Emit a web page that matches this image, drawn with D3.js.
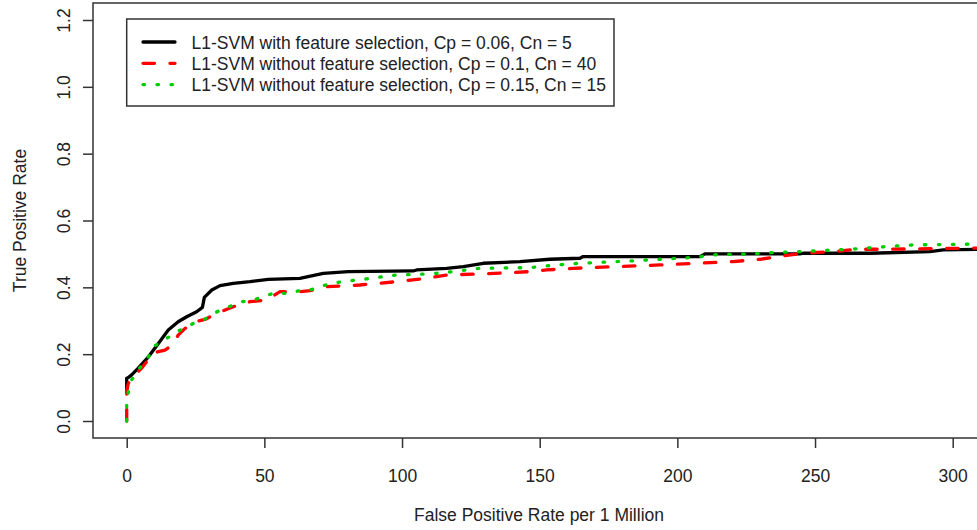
<!DOCTYPE html>
<html>
<head>
<meta charset="utf-8">
<script src="https://cdn.jsdelivr.net/npm/d3@7"></script>
<style>
  body { margin: 0; background: #fff; }
  text { font-family: "Liberation Sans", Arial, sans-serif; fill: #222; }
</style>
</head>
<body>
<div id="chart"></div>
<script>
// ROC curves: [false positives per 1M, true positive rate]
const withFS = [[0,0.09],[0,0.128],[0.6,0.13],[1.8,0.138],[4.2,0.158],[7.9,0.192],[11.5,0.232],[15.1,0.272],[18.7,0.297],[21.8,0.312],[25.4,0.327],[27.5,0.34],[28.2,0.37],[30.9,0.392],[33.9,0.405],[38.7,0.412],[44.8,0.417],[51.4,0.424],[62.9,0.427],[71.4,0.442],[80.5,0.447],[104.1,0.449],[105.3,0.452],[116.2,0.457],[122.3,0.462],[129.5,0.472],[142.8,0.477],[153.7,0.484],[164.6,0.487],[165.8,0.492],[208.2,0.492],[210,0.5],[244.5,0.5],[245.7,0.502],[270,0.502],[291.7,0.507],[296.6,0.512],[312,0.514]];
const noFS_Cp01 = [[0,0],[0,0.09],[0.6,0.113],[3.0,0.138],[5.4,0.158],[8.5,0.19],[10.3,0.205],[13.9,0.212],[16.5,0.227],[18.7,0.257],[21.2,0.277],[24.8,0.297],[28.4,0.304],[32.7,0.322],[38.7,0.342],[44.8,0.357],[50.8,0.362],[55.7,0.387],[62.9,0.387],[66.6,0.39],[72.6,0.402],[84.7,0.407],[98,0.417],[109,0.427],[116.2,0.437],[128.3,0.44],[146.5,0.447],[152.5,0.452],[162.2,0.457],[193.7,0.467],[202.1,0.47],[220.3,0.477],[230,0.484],[238.5,0.494],[245.7,0.502],[256.6,0.507],[265.1,0.514],[274.8,0.514],[303.9,0.517],[312,0.518]];
const noFS_Cp015 = [[0,0],[0,0.06],[0.6,0.088],[1.8,0.123],[4.2,0.153],[7.9,0.192],[9.7,0.222],[11.5,0.232],[14.5,0.247],[18.2,0.267],[21.8,0.282],[25.4,0.297],[27.8,0.302],[33.9,0.332],[38.7,0.347],[41.8,0.357],[46,0.362],[53.2,0.382],[58.1,0.382],[62.9,0.39],[66.6,0.392],[70.2,0.402],[74.5,0.412],[78.7,0.417],[85.9,0.424],[98.1,0.437],[110.2,0.44],[118.6,0.447],[128.3,0.457],[146.5,0.459],[156.2,0.467],[164.6,0.472],[182.8,0.479],[193.7,0.484],[207,0.49],[211.9,0.497],[226.4,0.5],[234.8,0.504],[244.6,0.507],[262.7,0.514],[276,0.522],[285.7,0.527],[305.1,0.529],[312,0.53]];

const xTicks = [0, 50, 100, 150, 200, 250, 300];
const yTicks = [0.0, 0.2, 0.4, 0.6, 0.8, 1.0, 1.2];
const legendLabels = [
  "L1-SVM with feature selection, Cp = 0.06, Cn = 5",
  "L1-SVM without feature selection, Cp = 0.1, Cn = 40",
  "L1-SVM without feature selection, Cp = 0.15, Cn = 15"
];

const W = 977, H = 530;
const FS = 17.5;
const box = {left: 93, top: 3, right: 1003, bottom: 438};

const x = d3.scaleLinear().domain([0, 300]).range([126.7, 952.7]);
const y = d3.scaleLinear().domain([0, 1.2]).range([421, 20]);

const svg = d3.select("#chart").append("svg")
    .attr("width", W)
    .attr("height", H);

svg.append("defs").append("clipPath").attr("id", "plotclip")
  .append("rect")
    .attr("x", box.left).attr("y", box.top)
    .attr("width", box.right - box.left).attr("height", box.bottom - box.top);

// series styles, drawn in legend order so green sits on top
const series = [
  {data: withFS, color: "#000", dash: null},
  {data: noFS_Cp01, color: "#ff0000", dash: "11.5,15.5"},
  {data: noFS_Cp015, color: "#00cd00", dash: "1.5,12.5"}
];

const line = d3.line().x(d => x(d[0])).y(d => y(d[1]));

svg.append("g").attr("clip-path", "url(#plotclip)")
  .selectAll("path")
  .data(series)
  .enter().append("path")
    .attr("d", d => line(d.data))
    .attr("fill", "none")
    .attr("stroke", d => d.color)
    .attr("stroke-width", 3.3)
    .attr("stroke-linecap", "round")
    .attr("stroke-linejoin", "round")
    .attr("stroke-dasharray", d => d.dash);

// plot frame
svg.append("rect")
    .attr("x", box.left).attr("y", box.top)
    .attr("width", box.right - box.left).attr("height", box.bottom - box.top)
    .attr("fill", "none").attr("stroke", "#333").attr("stroke-width", 1.5);

// x axis
const xAxis = svg.append("g")
    .attr("transform", `translate(0,${box.bottom})`)
    .call(d3.axisBottom(x).tickValues(xTicks).tickSize(10).tickPadding(22).tickFormat(d3.format("d")));
xAxis.select(".domain").remove();
xAxis.selectAll("line").attr("stroke", "#333").attr("stroke-width", 1.5);
xAxis.selectAll("text").attr("font-size", FS).attr("fill", "#222")
    .attr("font-family", "Liberation Sans, Arial, sans-serif");

// y axis, labels turned like R's default
const yAxis = svg.append("g")
    .attr("transform", `translate(${box.left},0)`)
    .call(d3.axisLeft(y).tickValues(yTicks).tickSize(10).tickFormat(d3.format(".1f")));
yAxis.select(".domain").remove();
yAxis.selectAll("line").attr("stroke", "#333").attr("stroke-width", 1.5);
yAxis.selectAll("text")
    .attr("font-size", FS).attr("fill", "#222")
    .attr("font-family", "Liberation Sans, Arial, sans-serif")
    .attr("x", null).attr("dy", null)
    .attr("text-anchor", "middle")
    .attr("transform", `translate(${69.5 - box.left},0) rotate(-90)`);

// axis titles
svg.append("text")
    .attr("x", 539).attr("y", 521)
    .attr("text-anchor", "middle").attr("font-size", FS)
    .text("False Positive Rate per 1 Million");
svg.append("text")
    .attr("transform", `translate(25.5,${(box.top + box.bottom) / 2}) rotate(-90)`)
    .attr("text-anchor", "middle").attr("font-size", FS)
    .text("True Positive Rate");

// legend
const legend = svg.append("g");
legend.append("rect")
    .attr("x", 126.7).attr("y", 19)
    .attr("width", 614 - 126.7).attr("height", 106 - 19)
    .attr("fill", "#fff").attr("stroke", "#333").attr("stroke-width", 1.5);
const rows = legend.selectAll("g.row")
  .data(series)
  .enter().append("g")
    .attr("class", "row")
    .attr("transform", (d, i) => `translate(0,${42 + i * 21.3})`);
rows.append("line")
    .attr("x1", 143).attr("x2", 175)
    .attr("stroke", d => d.color)
    .attr("stroke-width", 3.3)
    .attr("stroke-linecap", "round")
    .attr("stroke-dasharray", d => d.dash);
rows.append("text")
    .attr("x", 191.5).attr("y", 6.5)
    .attr("font-size", FS)
    .text((d, i) => legendLabels[i]);
</script>
</body>
</html>
